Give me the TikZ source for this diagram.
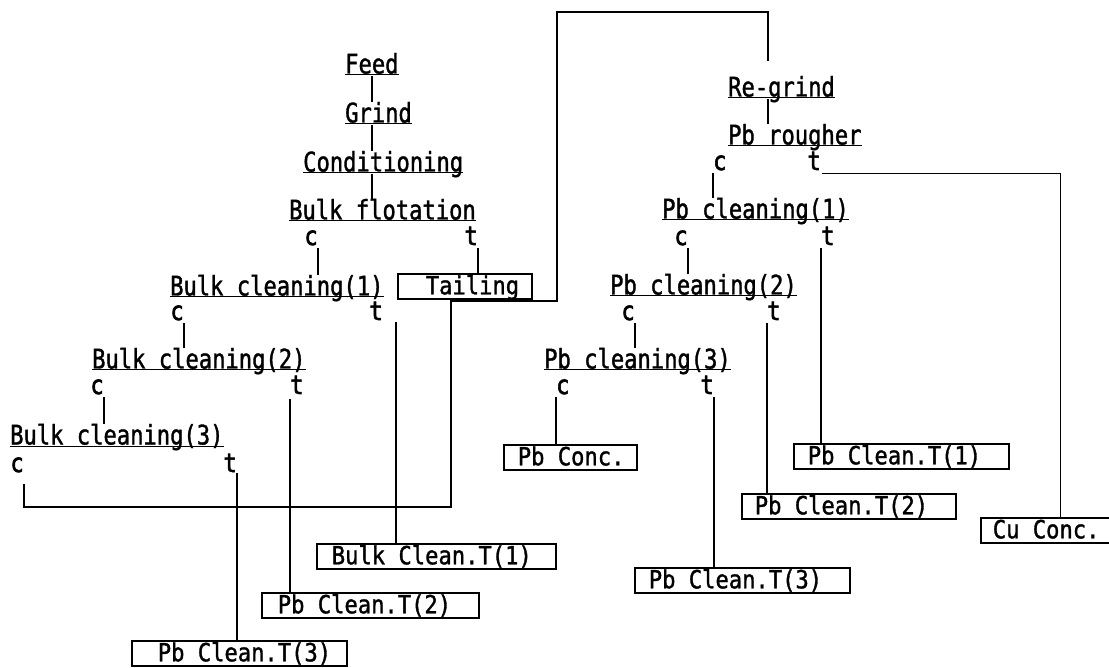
\documentclass[tikz,border=0pt]{standalone}
\usepackage{fontspec}
\newfontfamily\monofnt[FakeStretch=0.82,FakeBold=1.3]{DejaVu Sans Mono}
\newfontfamily\boxfnt[FakeStretch=0.886,FakeBold=1.3]{DejaVu Sans Mono}
\newfontfamily\letfnt[FakeStretch=0.85,FakeBold=2.2]{DejaVu Sans Mono}
\newcommand{\dfont}{\monofnt\fontsize{27pt}{27pt}\selectfont}
\newcommand{\bfont}{\boxfnt\fontsize{25pt}{25pt}\selectfont}
\newcommand{\lfont}{\letfnt\fontsize{26pt}{26pt}\selectfont}
\begin{document}
\begin{tikzpicture}[x=1pt,y=-1pt,
  ttl/.style={font=\dfont, anchor=base west, inner sep=0pt, text height=20pt, text depth=0pt},
  lt/.style={font=\lfont, inner sep=0pt, text height=14pt, text depth=0pt},
  bx/.style={draw, line width=1.6pt, font=\bfont, anchor=north west, inner xsep=0pt, inner ysep=0pt, text height=20pt, text depth=4pt, minimum height=25pt},
  cn/.style={line width=1.8pt},
  cnb/.style={line width=2.7pt},
  ul/.style={line width=1pt}]
\fill[white] (0,0) rectangle (1109,668);
\useasboundingbox (0,0) rectangle (1109,668);
% titles
\node[ttl] (feed) at (345,73.5) {Feed};
\node[ttl] (grind) at (345,122.5) {Grind};
\node[ttl] (cond) at (303,171.5) {Conditioning};
\node[ttl] (bf) at (289,219.5) {Bulk flotation};
\node[ttl] (bc1) at (170,295.5) {Bulk cleaning(1)};
\node[ttl] (bc2) at (92,368.5) {Bulk cleaning(2)};
\node[ttl] (bc3) at (10,444.5) {Bulk cleaning(3)};
\node[ttl] (regrind) at (728,96.5) {Re-grind};
\node[ttl] (pbr) at (728,144.5) {Pb rougher};
\node[ttl] (pbc1) at (662,218.5) {Pb cleaning(1)};
\node[ttl] (pbc2) at (610,294.5) {Pb cleaning(2)};
\node[ttl] (pbc3) at (544,368.5) {Pb cleaning(3)};
\foreach \n in {feed,grind,cond,bf,bc1,bc2,bc3,regrind,pbr,pbc1,pbc2,pbc3}
  \draw[ul] ([yshift=-1.5pt]\n.base west) -- ([yshift=-1.5pt]\n.base east);
% c / t letters
\node[lt, anchor=base east] (bfc) at (318,245) {c};
\node[lt, anchor=base east] (bft) at (478,245) {t};
\node[lt, anchor=base east] (bc1c) at (184,320) {c};
\node[lt, anchor=base] (bc1t) at (376,320) {t};
\node[lt, anchor=base east] (bc2c) at (104,394) {c};
\node[lt, anchor=base west] (bc2t) at (290,394) {t};
\node[lt, anchor=base east] (bc3c) at (24,472) {c};
\node[lt, anchor=base east] (bc3t) at (237,472) {t};
\node[lt, anchor=base west] (pbrc) at (713,170) {c};
\node[lt, anchor=base east] (pbrt) at (821,170) {t};
\node[lt, anchor=base east] (pbc1c) at (688,245) {c};
\node[lt, anchor=base west] (pbc1t) at (821,245) {t};
\node[lt, anchor=base east] (pbc2c) at (635,320) {c};
\node[lt, anchor=base west] (pbc2t) at (767,320) {t};
\node[lt, anchor=base west] (pbc3c) at (556,394) {c};
\node[lt, anchor=base east] (pbc3t) at (714,394) {t};
% boxes
\node[bx] (tail) at (397,273) {\makebox[134pt][l]{\hspace*{28pt}Tailing}};
\node[bx] (bct1) at (316,543) {\makebox[239pt][l]{\hspace*{15pt}Bulk Clean.T(1)}};
\node[bx] (lpct2) at (261,592) {\makebox[217pt][l]{\hspace*{16pt}Pb Clean.T(2)}};
\node[bx] (lpct3) at (131,640) {\makebox[215pt][l]{\hspace*{26pt}Pb Clean.T(3)}};
\node[bx] (pbconc) at (503,444) {\makebox[133pt][l]{\hspace*{14pt}Pb Conc.}};
\node[bx] (rpct1) at (793,443) {\makebox[215pt][l]{\hspace*{14pt}Pb Clean.T(1)}};
\node[bx] (rpct2) at (741,493) {\makebox[214pt][l]{\hspace*{13pt}Pb Clean.T(2)}};
\node[bx] (rpct3) at (634,567) {\makebox[215pt][l]{\hspace*{14pt}Pb Clean.T(3)}};
\node[bx] (cuconc) at (980,517) {\makebox[160pt][l]{\hspace*{12pt}Cu Conc.}};
\coordinate (rgin) at (768,61);
% left connectors
\draw[cn] ([yshift=-2pt]feed.south) -- (feed.south |- grind.north);
\draw[cn] ([yshift=-2pt]feed.south |- grind.south) -- (feed.south |- cond.north);
\draw[cn] ([yshift=-2pt]feed.south |- cond.south) -- (feed.south |- bf.north);
\draw[cn] ([yshift=-3pt]bfc.south east) -- (bfc.south east |- bc1.north);
\draw[cn] ([yshift=-3pt]bft.south east) -- (bft.south east |- tail.north);
\draw[cn] ([yshift=-3pt]bc1c.south east) -- (bc1c.south east |- bc2.north);
\draw[cn] ([xshift=20pt,yshift=-2pt]bc1t.south) -- ([xshift=20pt]bc1t.south |- bct1.north);
\draw[cn] ([yshift=-3pt]bc2c.south east) -- (bc2c.south east |- bc3.north);
\draw[cn] ([yshift=-5pt]bc2t.south west) -- (bc2t.south west |- lpct2.north);
\draw[cn] ([yshift=-12pt]bc3c.south east) |- (451,507) |- (557,301) |- (768,12) -- (rgin);
\draw[cnb] ([yshift=-1pt]bc3t.south east) -- (bc3t.south east |- lpct3.north);
% right connectors
\draw[cn] ([yshift=-2pt]rgin |- regrind.south) -- (rgin |- pbr.north);
\draw[cn] ([yshift=-3pt]pbrc.south west) -- (pbrc.south west |- pbc1.north);
\draw[cn, line width=1.3pt] ([xshift=1pt,yshift=-3pt]pbrt.south east) -| (cuconc.north);
\draw[cn] ([yshift=-3pt]pbc1c.south east) -- (pbc1c.south east |- pbc2.north);
\draw[cn, line width=1.3pt] ([yshift=-3pt]pbc1t.south west) -- (pbc1t.south west |- rpct1.north);
\draw[cn] ([yshift=-3pt]pbc2c.south east) -- (pbc2c.south east |- pbc3.north);
\draw[cn] ([yshift=-3pt]pbc2t.south west) -- (pbc2t.south west |- rpct2.north);
\draw[cn] ([yshift=-3pt]pbc3c.south west) -- (pbc3c.south west |- pbconc.north);
\draw[cnb] ([yshift=-3pt]pbc3t.south east) -- (pbc3t.south east |- rpct3.north);
\end{tikzpicture}
\end{document}
